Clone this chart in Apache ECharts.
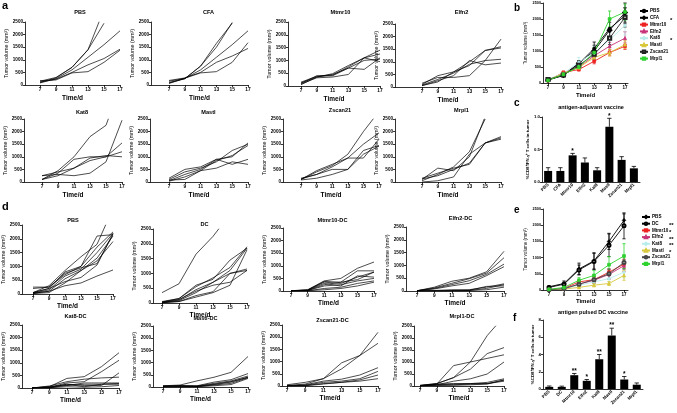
<!DOCTYPE html>
<html><head><meta charset="utf-8">
<script src="https://cdn.jsdelivr.net/npm/echarts@6/dist/echarts.min.js"></script>
<style>html,body{margin:0;padding:0;background:#fff}#c{width:677px;height:413px}</style>
</head><body><div id="c"></div>
<script>
// ---------- DATA ----------
const days = [7, 9, 11, 13, 15, 17];
const tickDays = [7, 9, 11, 13, 15, 17];

// panel a: antigen-adjuvant vaccine, individual mice
const aPBS = [[150,300,700,1400,3000,null],[100,280,700,1400,2450,null],[80,250,600,1100,1600,2150],[120,230,500,800,1050,1420],[170,200,480,530,900,1380]];
const aCFA = [[80,250,750,1650,2450,null],[100,250,750,1500,2480,null],[150,260,600,1100,1600,2150],[180,280,500,900,1150,1450],[60,270,480,530,900,1680]];
const aMtmr10 = [[50,350,480,800,1100,1400],[100,400,420,750,1100,1250],[150,380,400,700,1000,1050],[80,320,350,450,1100,950],[120,350,450,700,650,1100]];
const aElfn2 = [[100,450,600,1000,1450,1600],[80,300,550,900,1050,1100],[50,250,450,1050,880,950],[150,380,380,450,1050,1900],[60,200,600,850,1450,1550]];
const aKat8 = [[100,450,1000,1800,2250,4000],[250,300,250,350,800,2450],[100,350,900,1000,1000,1200],[250,400,550,950,1050,1000],[100,250,550,850,1000,1550]];
const aMastl = [[150,500,600,900,1000,1550],[100,400,550,800,1250,1500],[50,300,500,900,700,900],[30,200,450,550,800,700],[80,100,450,850,1050,1450]];
const aZscan21 = [[100,400,650,1100,2000,2800],[150,300,600,950,1500,1950],[100,450,700,950,950,1700],[80,150,300,500,1100,1420],[120,300,500,500,1250,1450]];
const aMrpl1 = [[100,550,450,1000,2600,null],[50,300,600,1200,2500,null],[0,50,200,1100,1550,1750],[150,350,550,700,1550,1700],[120,250,500,750,1550,1800]];

// panel d: antigen pulsed DC vaccine, individual mice
const dPBS = [[50,300,850,1350,1800,3100],[250,250,700,1000,2100,2150],[50,200,800,1000,1700,2250],[30,150,650,900,1500,2200],[20,100,550,850,1300,2100],[50,200,450,600,1050,2200],[30,100,300,400,650,870],[200,250,750,950,1100,2150],[20,50,400,850,1200,1900]];
const dDC = [[350,650,1650,2250,3000,null],[50,150,600,800,1450,1850],[30,150,550,850,1200,1900],[20,100,450,700,1100,1850],[10,80,350,700,1000,1100],[20,50,250,380,1000,1150],[10,50,200,350,600,1800],[30,120,400,600,700,1100]];
const dMtmr10 = [[10,50,400,500,900,1150],[10,30,380,350,800,800],[10,40,350,300,550,750],[10,20,250,350,450,750],[10,20,200,250,400,500],[5,10,100,150,300,400],[5,10,50,100,200,350],[10,30,300,200,600,550]];
const dElfn2 = [[10,150,380,500,750,1550],[10,120,300,480,700,1300],[10,100,250,400,650,1050],[10,80,200,300,600,950],[0,20,50,50,150,280],[0,10,20,30,180,200],[0,5,10,20,100,250],[0,0,10,20,50,150]];
const dKat8 = [[0,50,380,450,850,1400],[0,30,200,250,650,1100],[0,80,250,350,400,430],[0,20,150,100,100,600],[0,10,100,200,200,200],[0,20,150,50,150,150],[0,10,50,30,50,100],[0,60,100,150,150,180]];
const dMastl = [[50,80,250,400,600,1250],[50,50,50,200,300,550],[20,50,40,150,250,450],[10,20,30,100,200,400],[0,10,20,80,150,380],[0,5,10,50,100,350],[30,60,20,120,220,400]];
const dZscan21 = [[20,80,300,950,1250,2200],[50,150,300,700,1250,1750],[10,50,200,280,450,750],[5,30,150,200,300,600],[5,20,100,150,250,450],[0,10,80,150,200,300]];
const dMrpl1 = [[30,100,350,1000,2100,2900],[20,80,850,1000,1150,1300],[20,100,350,700,1350,1600],[10,50,200,300,500,1000],[10,80,100,100,150,300],[10,50,80,100,100,250],[5,40,50,80,100,200],[5,20,30,50,80,250]];

// panel b: group means ± SEM (antigen-adjuvant)
const bGroups = ['PBS','CFA','Mtmr10','Elfn2','Kat8','Mastl','Zscan21','Mrpl1'];
const bMeans = [[100,230,600,1080,1700,2100],[90,250,620,1000,1650,2200],[80,330,420,680,950,1150],[90,280,500,850,1150,1400],[120,300,650,950,1350,1800],[90,300,480,800,950,1200],[110,250,550,900,1400,2050],[80,270,500,950,2000,2220]];
const bErrs = [[20,40,80,200,300,250],[20,40,80,180,250,300],[20,40,40,80,100,100],[20,50,60,100,120,200],[30,60,150,200,250,300],[20,50,60,80,100,120],[20,40,60,150,200,300],[20,40,80,150,250,250]];
const bStars = ['','','*','','','*','',''];

// panel c: %CD8+IFN-g+ T cells (antigen-adjuvant)
const cCats = ['PBS','CFA','Mtmr10','Elfn2','Kat8','Mastl','Zscan21','Mrpl1'];
const cVals = [0.17,0.17,0.41,0.30,0.18,0.85,0.34,0.21];
const cErrs = [0.05,0.05,0.03,0.07,0.04,0.13,0.05,0.03];
const cStars = ['','','*','','','*','',''];

// panel e: group means ± SEM (DC vaccine)
const eGroups = ['PBS','DC','Mtmr10','Elfn2','Kat8','Mastl','Zscan21','Mrpl1'];
const eMeans = [[100,200,650,900,1500,2150],[80,180,620,880,1380,1980],[10,50,250,320,550,800],[10,40,180,300,480,750],[10,40,150,250,350,550],[10,30,80,150,200,450],[10,40,180,320,500,850],[20,80,300,450,780,1050]];
const eErrs = [[30,80,180,250,250,200],[30,60,150,250,350,400],[5,20,60,80,100,150],[5,20,60,80,150,180],[5,20,50,80,100,180],[5,10,30,50,60,150],[5,20,60,100,150,200],[10,30,80,150,250,380]];
const eStars = ['','','**','*','**','**','*',''];

// panel f: %CD8+IFN-g+ T cells (DC vaccine)
const fCats = ['PBS','DC','Mtmr10','Elfn2','Kat8','Mastl','Zscan21','Mrpl1'];
const fVals = [0.25,0.25,1.6,0.95,3.45,6.2,1.1,0.5];
const fErrs = [0.1,0.08,0.2,0.15,0.55,0.85,0.35,0.2];
const fStars = ['','','**','*','**','**','*',''];

// ---------- LAYOUT / STYLE ----------
const FF = '"Liberation Sans", Arial, Helvetica, sans-serif';
const grids = [], xAxes = [], yAxes = [], series = [], graphics = [], legends = [];
const axLine = {show:true, lineStyle:{color:'#000', width:0.8}};
const axTick = {show:true, inside:false, length:2, lineStyle:{color:'#000', width:0.8}};
const lab = (sz, extra) => Object.assign({fontSize:sz, fontWeight:'bold', color:'#000', fontFamily:FF, margin:2.5}, extra||{});
const plain = v => String(v);

function txt(x, y, s, size, weight, align, va) {
  graphics.push({type:'text', x:x, y:y, silent:true, z:100,
    style:{text:s, fontSize:size, fontWeight:weight||'bold', fontFamily:FF, fill:'#000', align:align||'center', verticalAlign:va||'middle'}});
}

function smallPanel(title, curves, L) {
  const ppu = (L.x17 - L.x7) / 10;
  const gi = grids.length;
  grids.push({left:L.ax, top:L.top, width:L.x17 - L.ax, height:L.bot - L.top, containLabel:false, outerBoundsMode:'none'});
  xAxes.push({type:'value', gridIndex:gi, min:7 - (L.x7 - L.ax) / ppu, max:17,
    axisLine:axLine, axisTick:Object.assign({customValues:tickDays}, axTick),
    axisLabel:lab(4.8, {customValues:tickDays, formatter:plain}), splitLine:{show:false},
    name:'Time/d', nameLocation:'middle', nameGap:L.xg || 9.5,
    nameTextStyle:{fontSize:6.5, fontWeight:'bold', color:'#000', fontFamily:FF}});
  yAxes.push({type:'value', gridIndex:gi, min:0, max:2500, interval:500,
    axisLine:axLine, axisTick:axTick, axisLabel:lab(4.6, {margin:2, formatter:plain}), splitLine:{show:false},
    name:'Tumor volume (mm³)', nameLocation:'middle', nameRotate:90, nameGap:L.yg || 13,
    nameTextStyle:{fontSize:5.3, color:'#000', fontFamily:FF}});
  curves.forEach(c => series.push({type:'line', xAxisIndex:gi, yAxisIndex:gi,
    data:c.map((v, i) => [days[i], v]), symbol:'none', connectNulls:false,
    lineStyle:{color:'#000', width:0.7}, clip:true, silent:true, animation:false}));
  txt((L.x7 + L.x17) / 2, L.ty, title, 5.6);
}

function errSeries(gi, color, data, upOnly, stars) {
  series.push({type:'custom', xAxisIndex:gi, yAxisIndex:gi, data:data, silent:true, z:5, animation:false,
    renderItem:function(params, api) {
      const x = api.value(0), y = api.value(1), e = api.value(2);
      const t = api.coord([x, y + e]), b = api.coord(upOnly ? [x, y] : [x, y - e]);
      const w = upOnly ? 2.2 : 1.6;
      const ch = [
        {type:'line', shape:{x1:t[0], y1:t[1], x2:b[0], y2:b[1]}, style:{stroke:color, lineWidth:0.8}},
        {type:'line', shape:{x1:t[0]-w, y1:t[1], x2:t[0]+w, y2:t[1]}, style:{stroke:color, lineWidth:0.8}}];
      if (!upOnly) ch.push({type:'line', shape:{x1:b[0]-w, y1:b[1], x2:b[0]+w, y2:b[1]}, style:{stroke:color, lineWidth:0.8}});
      if (stars && stars[params.dataIndex]) ch.push({type:'text', x:t[0], y:t[1]+1,
        style:{text:stars[params.dataIndex], fontSize:6.5, fontWeight:'bold', fontFamily:FF, fill:'#000', align:'center', verticalAlign:'bottom'}});
      return {type:'group', children:ch};
    }});
}

function meanPanel(groups, means, errs, styles, L, suffix, leg, stars) {
  const ppu = (L.x17 - L.x7) / 10;
  const gi = grids.length;
  grids.push({left:L.ax, top:L.top, width:L.xr - L.ax, height:L.bot - L.top, containLabel:false, outerBoundsMode:'none'});
  xAxes.push({type:'value', gridIndex:gi, min:7 - (L.x7 - L.ax) / ppu, max:17 + (L.xr - L.x17) / ppu,
    axisLine:axLine, axisTick:Object.assign({customValues:tickDays}, axTick),
    axisLabel:lab(4.5, {customValues:tickDays, formatter:plain}), splitLine:{show:false},
    name:'Time/d', nameLocation:'middle', nameGap:L.xg,
    nameTextStyle:{fontSize:6, fontWeight:'bold', color:'#000', fontFamily:FF}});
  yAxes.push({type:'value', gridIndex:gi, min:0, max:2500, interval:500,
    axisLine:axLine, axisTick:axTick, axisLabel:lab(3.8, {margin:2, formatter:plain}), splitLine:{show:false},
    name:'Tumor volume (mm³)', nameLocation:'middle', nameRotate:90, nameGap:L.yg,
    nameTextStyle:{fontSize:4.6, color:'#000', fontFamily:FF}});
  groups.forEach((g, k) => {
    const st = styles[k];
    errSeries(gi, st.c, days.map((d, i) => [d, means[k][i], errs[k][i]]), false, null);
    series.push({type:'line', name:g + suffix, xAxisIndex:gi, yAxisIndex:gi, z:6,
      data:days.map((d, i) => [d, means[k][i]]), symbol:st.s, symbolSize:st.z || 3, showSymbol:true,
      itemStyle:{color:st.c, borderColor:st.c, borderWidth:0.8}, lineStyle:{color:st.c, width:0.9}, animation:false, silent:true});
  });
  legends.push({data:groups.map(g => g + suffix), orient:'vertical', left:leg.x, top:leg.y,
    itemWidth:8, itemHeight:3, itemGap:leg.gap, selectedMode:false,
    textStyle:{fontSize:4.6, fontWeight:'bold', color:'#000', fontFamily:FF, lineHeight:5, padding:[0,0,0,-3]}});
  stars.forEach((s, k) => { if (s) txt(leg.sx, leg.y + 2.8 + k * (5 + leg.gap), s, 6, 'bold', 'left'); });
}

function barPanel(cats, vals, errs, stars, L, ymax, yint, fmt) {
  const gi = grids.length;
  grids.push({left:L.ax, top:L.top, width:L.w, height:L.bot - L.top, containLabel:false, outerBoundsMode:'none'});
  xAxes.push({type:'category', gridIndex:gi, data:cats, axisLine:axLine, axisTick:{show:false},
    axisLabel:lab(4.5, {rotate:45, interval:0, margin:2})});
  yAxes.push({type:'value', gridIndex:gi, min:0, max:ymax, interval:yint,
    axisLine:axLine, axisTick:axTick, axisLabel:lab(4.3, {margin:2, formatter:fmt}), splitLine:{show:false},
    name:'%CD8⁺IFN-γ⁺ T cells in tumor', nameLocation:'middle', nameRotate:90, nameGap:L.yg,
    nameTextStyle:{fontSize:4.4, fontWeight:'bold', color:'#000', fontFamily:FF}});
  series.push({type:'bar', xAxisIndex:gi, yAxisIndex:gi, data:vals, barWidth:8, itemStyle:{color:'#000'}, silent:true, animation:false});
  errSeries(gi, '#000', vals.map((v, i) => [i, v, errs[i]]), true, stars);
  txt(L.ax + L.w / 2, L.ty, L.title, 5.5);
}

// small panel placement
const layA = [
  {ax:25, x7:40, x17:120, top:22, bot:85, ty:12, yg:15},
  {ax:151, x7:169, x17:248, top:22, bot:85, ty:12, yg:13},
  {ax:288, x7:301, x17:380, top:22, bot:86, ty:12, yg:13},
  {ax:395, x7:422, x17:501, top:24, bot:87, ty:12, yg:13},
  {ax:24, x7:42, x17:122, top:119, bot:182, ty:112, yg:15},
  {ax:150, x7:169, x17:248, top:119, bot:182, ty:112, yg:13},
  {ax:283, x7:301, x17:379, top:119, bot:182, ty:110, yg:13},
  {ax:395, x7:422, x17:501, top:119, bot:182, ty:110, yg:13}];
const layD = [
  {ax:22, x7:33, x17:113, top:225, bot:294, ty:220, xg:7, yg:13},
  {ax:153, x7:162, x17:247, top:229, bot:303, ty:224, xg:3.5, yg:13},
  {ax:283, x7:291, x17:374, top:228, bot:291, ty:220, xg:9, yg:13},
  {ax:406, x7:417, x17:504, top:227, bot:291, ty:218, xg:9, yg:13},
  {ax:22, x7:32, x17:119, top:325, bot:388, ty:316, xg:8, yg:13},
  {ax:153, x7:163, x17:248, top:326, bot:387, ty:318, xg:8, yg:13},
  {ax:282, x7:287, x17:378, top:325, bot:386, ty:320, xg:9, yg:13},
  {ax:414, x7:420, x17:504, top:326, bot:386, ty:316, xg:9, yg:13}];

const aNames = ['PBS','CFA','Mtmr10','Elfn2','Kat8','Mastl','Zscan21','Mrpl1'];
const aData = [aPBS, aCFA, aMtmr10, aElfn2, aKat8, aMastl, aZscan21, aMrpl1];
const dNames = ['PBS','DC','Mtmr10-DC','Elfn2-DC','Kat8-DC','Mastl-DC','Zscan21-DC','Mrpl1-DC'];
const dData = [dPBS, dDC, dMtmr10, dElfn2, dKat8, dMastl, dZscan21, dMrpl1];
aNames.forEach((n, i) => smallPanel(n, aData[i], layA[i]));
dNames.forEach((n, i) => smallPanel(n, dData[i], layD[i]));

const bStyle = [{c:'#000', s:'circle'}, {c:'#000', s:'emptyDiamond', z:3.5}, {c:'#ee2222', s:'rect', z:2.8}, {c:'#c8347a', s:'triangle'},
  {c:'#b9ecec', s:'diamond'}, {c:'#d8c83c', s:'triangle'}, {c:'#222', s:'emptyRect', z:3.2}, {c:'#2fd22f', s:'rect', z:2.8}];
const eStyle = [{c:'#000', s:'diamond', z:3.5}, {c:'#000', s:'emptyCircle'}, {c:'#ee2222', s:'rect', z:2.8}, {c:'#c8347a', s:'triangle'},
  {c:'#b9ecec', s:'diamond'}, {c:'#d8c83c', s:'triangle'}, {c:'#444', s:'emptyCircle'}, {c:'#2fd22f', s:'rect', z:2.8}];

meanPanel(bGroups, bMeans, bErrs, bStyle, {ax:543, x7:548, x17:625, xr:628, top:3, bot:83, xg:9, yg:12}, '',
  {x:634, y:3.5, gap:1.8, sx:670}, bStars);
meanPanel(eGroups, eMeans, eErrs, eStyle, {ax:543, x7:549, x17:624, xr:628, top:209, bot:290, xg:8, yg:12}, ' ',
  {x:636, y:209.5, gap:1.7, sx:669}, eStars);

barPanel(cCats, cVals, cErrs, cStars, {ax:542, w:98, top:117, bot:182, yg:7, ty:107, title:'antigen-adjuvant vaccine'}, 1.0, 0.5, v => v.toFixed(1));
barPanel(fCats, fVals, fErrs, fStars, {ax:543, w:100, top:320, bot:389, yg:7, ty:312, title:'antigen pulsed DC vaccine'}, 8, 2, plain);

// panel letters
txt(2, 6, 'a', 11, 'bold', 'left');
txt(2, 207, 'd', 11, 'bold', 'left');
txt(514, 8, 'b', 10, 'bold', 'left');
txt(514, 103, 'c', 10, 'bold', 'left');
txt(514, 210, 'e', 10, 'bold', 'left');
txt(513, 318, 'f', 10, 'bold', 'left');

const chart = echarts.init(document.getElementById('c'), null, {renderer:'canvas'});
chart.setOption({animation:false, backgroundColor:'#fff', grid:grids, xAxis:xAxes, yAxis:yAxes, series:series, legend:legends, graphic:{elements:graphics}});
</script></body></html>
